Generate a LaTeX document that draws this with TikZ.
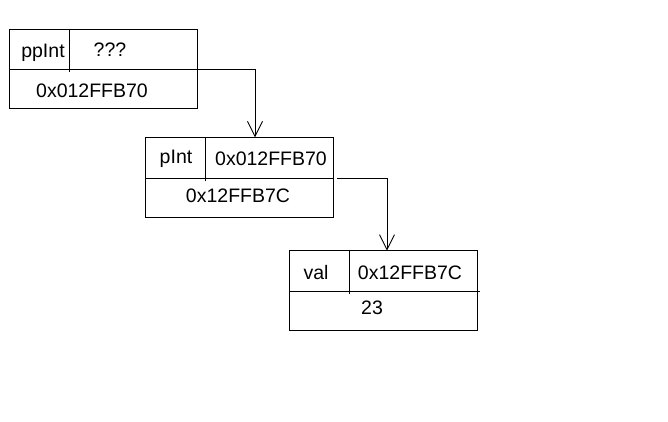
\documentclass[tikz,border=0pt]{standalone}
\usepackage{fontspec}
\setmainfont{Liberation Sans}
\usetikzlibrary{arrows.meta}
\begin{document}
\begin{tikzpicture}[x=1pt,y=-1pt,
  box/.style={draw,line width=0.9pt,outer sep=0pt,inner sep=0pt},
  ln/.style={line width=0.9pt},
  lbl/.style={inner sep=0pt,font=\fontsize{19.5}{21}\selectfont},
  arr/.style={line width=0.9pt,-{Straight Barb[length=15pt,width=15pt,line width=0.9pt]}}]
\useasboundingbox (0,0) rectangle (668,422);
% boxes
\node[box,minimum width=188pt,minimum height=79pt] (b1) at (103,68.5) {};
\node[box,minimum width=187.3pt,minimum height=80pt] (b2) at (239.3,177.3) {};
\node[box,minimum width=188.4pt,minimum height=79.3pt] (b3) at (383.5,290.3) {};
% inner lines
\draw[ln] (b1.west |- 0,69) -- (199,69);
\draw[ln] (69,0 |- b1.north) -- (69,72);
\draw[ln] (b2.west |- 0,178) -- (b2.east |- 0,178);
\draw[ln] (205.7,0 |- b2.north) -- (205.7,181);
\draw[ln] (b3.west |- 0,291) -- (480,291);
\draw[ln] (349.3,0 |- b3.north) -- (349.3,294);
% texts
\node[lbl] (t1a) at (43,53) {ppInt};
\node[lbl] (t1b) at (110,50) {???};
\node[lbl] (t1c) at (92,91) {0x012FFB70};
\node[lbl] (t2a) at (176,159) {pInt};
\node[lbl] (t2b) at (271,159) {0x012FFB70};
\node[lbl] (t2c) at (238,196) {0x12FFB7C};
\node[lbl] (t3a) at (316,273) {val};
\node[lbl] (t3b) at (410,273) {0x12FFB7C};
\node[lbl] (t3c) at (372,308) {23};
% connectors
\coordinate (s1) at (199,69);
\coordinate (e1) at (255,0 |- b2.north);
\coordinate (s2) at (337,178);
\coordinate (e2) at (387,0 |- b3.north);
\draw[arr] (s1) -| (e1);
\draw[arr] (s2) -| (e2);
\end{tikzpicture}
\end{document}
